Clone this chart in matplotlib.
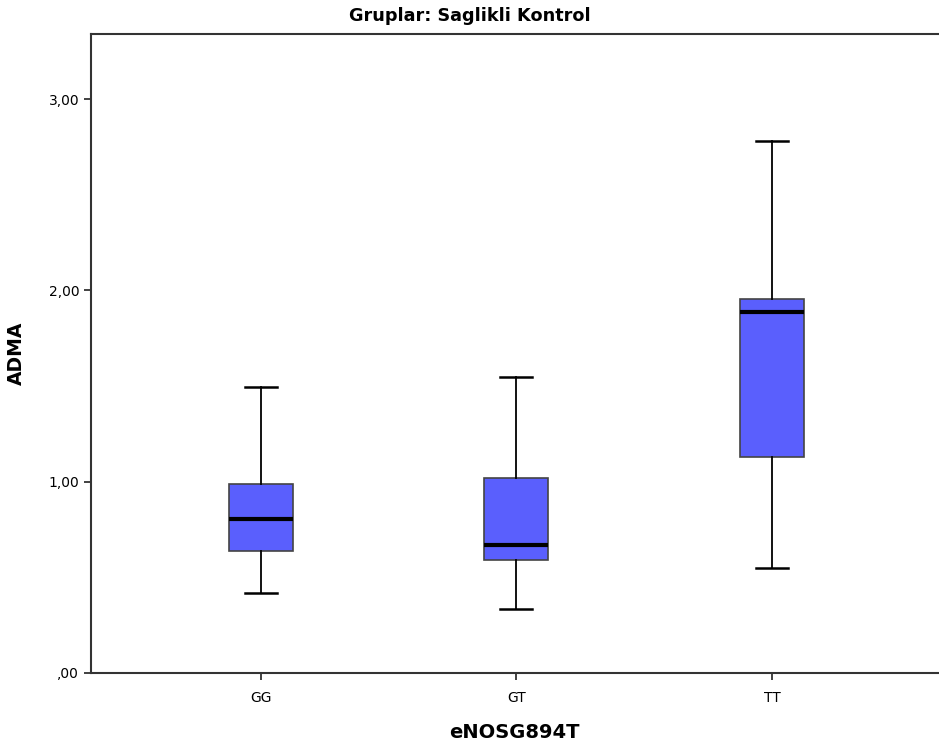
import matplotlib
matplotlib.use('Agg')
from matplotlib import pyplot as plt

plt.rcParams['font.family'] = ['DejaVu Sans']

groups = ['GG', 'GT', 'TT']
whislo = [0.418, 0.335, 0.549]
q1 = [0.638, 0.590, 1.129]
med = [0.805, 0.669, 1.887]
q3 = [0.988, 1.019, 1.955]
whishi = [1.495, 1.547, 2.781]
yticks = [0, 1, 2, 3]
ytick_labels = [',00', '1,00', '2,00', '3,00']

stats = []
for i, g in enumerate(groups):
    stats.append({'label': g, 'whislo': whislo[i], 'q1': q1[i], 'med': med[i],
                  'q3': q3[i], 'whishi': whishi[i], 'fliers': []})

fig = plt.figure(figsize=(9.39, 7.49), dpi=100)
ax = fig.add_axes([91 / 939, 76 / 749, 847 / 939, 639 / 749])

ax.bxp(stats, positions=[1, 2, 3], widths=0.25, patch_artist=True,
       showfliers=False,
       boxprops=dict(facecolor='#5a5ffd', edgecolor='#444444', linewidth=1.2),
       medianprops=dict(color='black', linewidth=3),
       whiskerprops=dict(color='black', linewidth=1.3),
       capprops=dict(color='black', linewidth=1.8),
       capwidths=0.125)

ax.set_xlim(0.335, 3.65)
ax.set_ylim(0, 3.34)
ax.set_yticks(yticks)
ax.set_yticklabels(ytick_labels)
ax.tick_params(axis='both', labelsize=10, color='#333333', length=5, width=1.3)
ax.tick_params(axis='x', pad=8)
ax.spines['right'].set_visible(False)
for s in ['left', 'top', 'bottom']:
    ax.spines[s].set_linewidth(1.5)
    ax.spines[s].set_color('#333333')

ax.set_xlabel('eNOSG894T', fontsize=14, fontweight='bold', labelpad=13)
ax.set_ylabel('ADMA', fontsize=13.5, fontweight='bold', labelpad=16)
fig.text(0.5, 1 - 16 / 749, 'Gruplar: Saglikli Kontrol', ha='center', va='center',
         fontsize=12.7, fontweight='bold')

fig.savefig('out.png', dpi=100)
